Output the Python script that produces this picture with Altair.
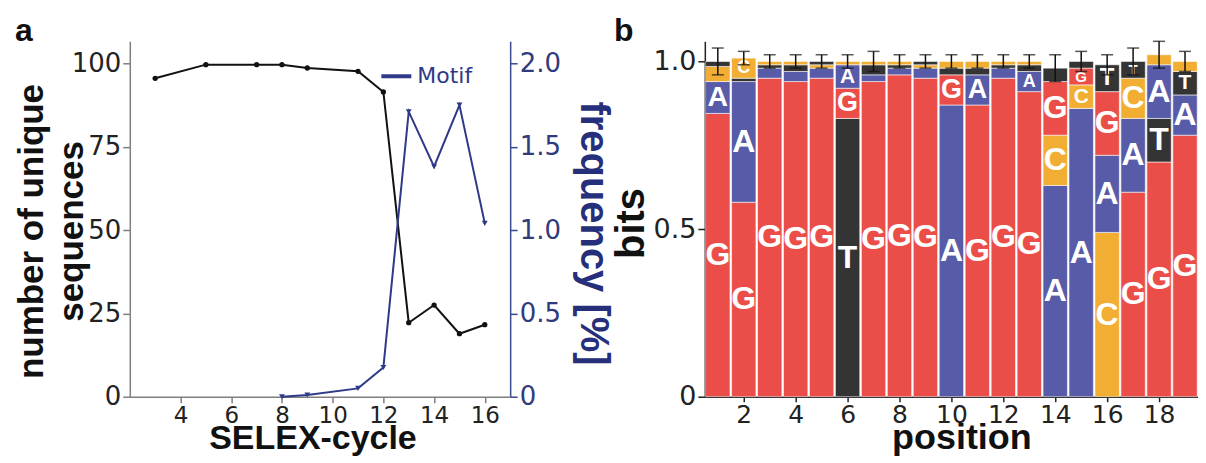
import altair as alt
import pandas as pd

# ---------------- panel a data ----------------
cycles_unique = [3, 5, 7, 8, 9, 11, 12, 13, 14, 15, 16]
unique_seqs = [95.5, 99.6, 99.6, 99.6, 98.6, 97.6, 91.4, 22.2, 27.5, 18.9, 21.6]
cycles_motif = [8, 9, 11, 12, 13, 14, 15, 16]
motif_freq = [0.0, 0.01, 0.05, 0.175, 1.71, 1.38, 1.75, 1.04]

# ---------------- panel b data (sequence logo) ----------------
positions = list(range(1, 20))
# letters stacked bottom -> top
stack_letters = ["GACT", "GATC", "GATC", "GATC", "GACT", "TGAC", "GATC", "GATC", "GACT", "AGTC",
                 "GATC", "GATC", "GATC", "ACGT", "ACGT", "CAGT", "GACT", "GTAC", "GATC"]
stack_heights = [
    [0.845, 0.095, 0.045, 0.015],
    [0.58, 0.36, 0.01, 0.06],
    [0.95, 0.03, 0.01, 0.01],
    [0.94, 0.03, 0.02, 0.01],
    [0.95, 0.03, 0.01, 0.01],
    [0.83, 0.09, 0.07, 0.01],
    [0.94, 0.02, 0.03, 0.01],
    [0.96, 0.02, 0.01, 0.01],
    [0.95, 0.03, 0.01, 0.01],
    [0.87, 0.09, 0.02, 0.02],
    [0.87, 0.09, 0.02, 0.02],
    [0.95, 0.03, 0.01, 0.01],
    [0.91, 0.06, 0.02, 0.01],
    [0.63, 0.15, 0.16, 0.04],
    [0.86, 0.07, 0.05, 0.02],
    [0.49, 0.23, 0.19, 0.08],
    [0.61, 0.22, 0.12, 0.05],
    [0.70, 0.13, 0.16, 0.03],
    [0.78, 0.12, 0.07, 0.03],
]
error_half = [0.04, 0.02, 0.02, 0.02, 0.02, 0.02, 0.03, 0.02, 0.02, 0.02,
              0.02, 0.02, 0.02, 0.04, 0.03, 0.03, 0.04, 0.04, 0.03]
letter_domain = ["G", "A", "C", "T"]
letter_colors = ["#e8302a", "#3a3f99", "#f0a010", "#111111"]
panel_labels = ["a", "b"]

NAVY = "#2e3a87"
TICK_FONT = "DejaVu Sans"
TITLE_FONT = "Liberation Sans"

df_u = pd.DataFrame({"cycle": cycles_unique, "unique": unique_seqs})
df_m = pd.DataFrame({"cycle": cycles_motif, "freq": motif_freq, "series": ["Motif"] * len(cycles_motif)})

rows = []
for i, p in enumerate(positions):
    acc = 0.0
    for L, h in zip(stack_letters[i], stack_heights[i]):
        rows.append({"pos": p, "letter": L, "h": h, "y0": acc, "y1": acc + h})
        acc += h
df_logo = pd.DataFrame(rows)
df_err = pd.DataFrame({"pos": positions,
                       "top": [sum(h) for h in stack_heights],
                       "err": error_half})

# ---------------- panel a ----------------
x_a = alt.X("cycle:Q",
            scale=alt.Scale(domain=[2, 17], nice=False, zero=False),
            axis=alt.Axis(values=[4, 6, 8, 10, 12, 14, 16], title="SELEX-cycle",
                          grid=False, domainColor="#7f7f7f", domainWidth=1.5,
                          tickColor="#7f7f7f", tickWidth=1.5, tickSize=6,
                          labelFont=TICK_FONT, labelFontSize=23, labelColor="#222",
                          labelPadding=2, titleFont=TITLE_FONT, titleFontSize=34,
                          titleFontWeight="bold", titleColor="#111",
                          titleX=183, titleY=52, titleBaseline="alphabetic"))

black = alt.Chart(df_u).mark_line(
    color="#111", strokeWidth=2,
    point=alt.OverlayMarkDef(color="#111", size=28, filled=True)
).encode(
    x=x_a,
    y=alt.Y("unique:Q",
            scale=alt.Scale(domain=[0, 106.6], nice=False),
            axis=alt.Axis(values=[0, 25, 50, 75, 100],
                          title=["number of unique", "sequences"],
                          grid=False, domainColor="#7f7f7f", domainWidth=1.5,
                          tickColor="#7f7f7f", tickWidth=1.5, tickSize=7,
                          labelFont=TICK_FONT, labelFontSize=26, labelColor="#222",
                          labelPadding=2, titleFont=TITLE_FONT, titleFontSize=35,
                          titleFontWeight="bold", titleColor="#111",
                          titleLineHeight=40, titleX=-80, titleY=190,
                          titleBaseline="bottom")),
)

blue = alt.Chart(df_m).mark_line(
    strokeWidth=2,
    point=alt.OverlayMarkDef(shape="triangle-down", size=34, filled=True)
).encode(
    x=x_a,
    y=alt.Y("freq:Q",
            scale=alt.Scale(domain=[0, 2.132], nice=False),
            axis=alt.Axis(orient="right", values=[0, 0.5, 1.0, 1.5, 2.0],
                          labelExpr="datum.value == 0 ? '0' : format(datum.value, '.1f')",
                          title="frequency [%]",
                          grid=False, domainColor="#3b4a8f", domainWidth=1.5,
                          tickColor="#3b4a8f", tickWidth=1.5, tickSize=7,
                          labelFont=TICK_FONT, labelFontSize=26, labelColor="#2f3b7c",
                          labelPadding=2, titleFont=TITLE_FONT, titleFontSize=40,
                          titleFontWeight="bold", titleColor="#262f7a",
                          titleAngle=90, titleX=62, titleY=192,
                          titleBaseline="bottom")),
    color=alt.Color("series:N",
                    scale=alt.Scale(domain=["Motif"], range=[NAVY]),
                    legend=alt.Legend(title=None, orient="none", legendX=250, legendY=18,
                                      symbolType="stroke", symbolStrokeWidth=4,
                                      symbolSize=900, labelFont=TICK_FONT,
                                      labelFontSize=22, labelColor=NAVY,
                                      labelOffset=4, padding=0)),
)

label_a = alt.Chart(pd.DataFrame({"lab": [panel_labels[0]]})).mark_text(
    font=TITLE_FONT, fontSize=32, fontWeight="bold", color="#111",
    align="left", baseline="alphabetic"
).encode(x=alt.value(-115), y=alt.value(0), text="lab:N")

panel_a = alt.layer(black, blue, label_a).resolve_scale(y="independent").properties(
    width=381, height=356,
)

# ---------------- panel b ----------------
x_b_scale = alt.Scale(domain=[0.5, 19.5], nice=False, zero=False)
y_b_scale = alt.Scale(domain=[0, 1.06], nice=False)

x_b_axis = alt.Axis(values=list(range(2, 19, 2)), title="position", grid=False,
                    domainColor="#222", domainWidth=1.5, tickColor="#222",
                    tickWidth=1.5, tickSize=5, labelFont=TICK_FONT, labelFontSize=25,
                    labelColor="#222", labelPadding=1, titleFont=TITLE_FONT,
                    titleFontSize=36, titleFontWeight="bold", titleColor="#111",
                    titleX=257, titleY=52, titleBaseline="alphabetic")
y_b_axis = alt.Axis(values=[0, 0.5, 1.0], title="bits", grid=False,
                    labelExpr="datum.value == 0 ? '0' : format(datum.value, '.1f')",
                    domainColor="#222", domainWidth=1.5, tickColor="#222",
                    tickWidth=1.5, tickSize=7, labelFont=TICK_FONT, labelFontSize=27,
                    labelColor="#222", labelPadding=2, titleFont=TITLE_FONT,
                    titleFontSize=40, titleFontWeight="bold", titleColor="#111",
                    titleX=-53, titleY=182, titleBaseline="bottom")

bars = alt.Chart(df_logo).transform_calculate(
    xa="datum.pos - 0.47", xb="datum.pos + 0.47"
).mark_bar(opacity=0.85, stroke="white", strokeWidth=0.6).encode(
    x=alt.X("xa:Q", scale=x_b_scale, axis=x_b_axis),
    x2="xb:Q",
    y=alt.Y("y0:Q", scale=y_b_scale, axis=y_b_axis),
    y2="y1:Q",
    color=alt.Color("letter:N", scale=alt.Scale(domain=letter_domain, range=letter_colors),
                    legend=None),
)

letters = alt.Chart(df_logo).transform_filter(
    "datum.h >= 0.05"
).transform_calculate(
    ym="(datum.y0 + datum.y1) / 2", fs="min(32, datum.h * 300)"
).mark_text(font=TITLE_FONT, fontWeight="bold", color="white", baseline="middle",
            align="center").encode(
    x=alt.X("pos:Q", scale=x_b_scale),
    y=alt.Y("ym:Q", scale=y_b_scale),
    text="letter:N",
    size=alt.Size("fs:Q", scale=None, legend=None),
)

err_base = alt.Chart(df_err).transform_calculate(
    lo="datum.top - datum.err", hi="datum.top + datum.err"
)
err_stem = err_base.mark_rule(color="#111", strokeWidth=1.5).encode(
    x=alt.X("pos:Q", scale=x_b_scale),
    y=alt.Y("lo:Q", scale=y_b_scale),
    y2="hi:Q",
)
err_caps = err_base.transform_fold(["lo", "hi"], as_=["end", "val"]).mark_tick(
    orient="horizontal", size=12, thickness=1.5, color="#111"
).encode(
    x=alt.X("pos:Q", scale=x_b_scale),
    y=alt.Y("val:Q", scale=y_b_scale),
)

label_b = alt.Chart(pd.DataFrame({"lab": [panel_labels[1]]})).mark_text(
    font=TITLE_FONT, fontSize=32, fontWeight="bold", color="#111",
    align="left", baseline="alphabetic"
).encode(x=alt.value(-91), y=alt.value(0), text="lab:N")

panel_b = alt.layer(bars, letters, err_stem, err_caps, label_b).properties(
    width=494, height=356,
)

chart = alt.hconcat(panel_a, panel_b, spacing=0).resolve_scale(
    color="independent"
).properties(
    padding={"left": 7, "top": 7, "right": 0, "bottom": 0}
).configure_view(stroke=None)

chart.save("out.html", embed_options={"renderer": "svg", "actions": False})
